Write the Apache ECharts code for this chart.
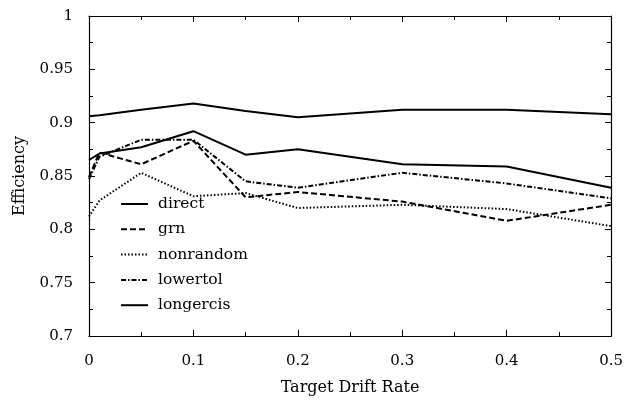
<!DOCTYPE html>
<html><head><meta charset="utf-8">
<script src="https://cdn.jsdelivr.net/npm/echarts@6/dist/echarts.min.js"></script>
<style>html,body{margin:0;padding:0;background:#fff}#c{width:626px;height:401px}</style>
</head><body><div id="c"></div>
<script>
var driftRates = [0, 0.01, 0.05, 0.1, 0.15, 0.2, 0.3, 0.4, 0.5];
var direct    = [0.865, 0.871, 0.877, 0.892, 0.870, 0.875, 0.861, 0.859, 0.839];
var grn       = [0.849, 0.872, 0.861, 0.883, 0.830, 0.835, 0.826, 0.808, 0.823];
var nonrandom = [0.812, 0.827, 0.853, 0.831, 0.834, 0.820, 0.823, 0.819, 0.803];
var lowertol  = [0.847, 0.868, 0.884, 0.884, 0.845, 0.839, 0.853, 0.843, 0.829];
var longercis = [0.906, 0.907, 0.912, 0.918, 0.911, 0.905, 0.912, 0.912, 0.908];
var seriesNames = ['direct', 'grn', 'nonrandom', 'lowertol', 'longercis'];
var xTitle = 'Target Drift Rate';
var yTitle = 'Efficiency';

var FONT = 'DejaVu Serif';
var dashes = {
  direct: 'solid',
  grn: [6, 3],
  nonrandom: [1.5, 2],
  lowertol: [5, 2, 1.5, 2],
  longercis: 'solid'
};
var values = {direct: direct, grn: grn, nonrandom: nonrandom, lowertol: lowertol, longercis: longercis};

function pairs(arr) { return driftRates.map(function (x, i) { return [x, arr[i]]; }); }

var axisLineStyle = {color: '#000', width: 1.2};
function mkX(pos, labels) {
  return {
    type: 'value', position: pos, min: 0, max: 0.5, interval: 0.1,
    axisLine: {show: true, onZero: false, lineStyle: axisLineStyle},
    axisTick: {show: true, inside: true, length: 6, lineStyle: {color: '#000'}},
    minorTick: {show: true, splitNumber: 2, length: 4, lineStyle: {color: '#000'}},
    splitLine: {show: false},
    axisLabel: {show: labels, color: '#000', fontFamily: FONT, fontSize: 15, margin: 18},
    name: labels ? xTitle : '', nameLocation: 'middle', nameGap: 44,
    nameTextStyle: {color: '#000', fontFamily: FONT, fontSize: 16}
  };
}
function mkY(pos, labels) {
  return {
    type: 'value', position: pos, min: 0.7, max: 1, interval: 0.05,
    axisLine: {show: true, onZero: false, lineStyle: axisLineStyle},
    axisTick: {show: true, inside: true, length: 6, lineStyle: {color: '#000'}},
    minorTick: {show: true, splitNumber: 2, length: 4, lineStyle: {color: '#000'}},
    splitLine: {show: false},
    axisLabel: {show: labels, color: '#000', fontFamily: FONT, fontSize: 15, margin: 16},
    name: labels ? yTitle : '', nameLocation: 'middle', nameGap: 61, nameRotate: 90,
    nameTextStyle: {color: '#000', fontFamily: FONT, fontSize: 16}
  };
}

var chart = echarts.init(document.getElementById('c'), null, {renderer: 'canvas'});
chart.setOption({
  animation: false,
  backgroundColor: '#fff',
  grid: {left: 89, right: 13, top: 16, bottom: 63, containLabel: false},
  xAxis: [mkX('bottom', true), mkX('top', false)],
  yAxis: [mkY('left', true), mkY('right', false)],
  legend: {
    orient: 'vertical', left: 115, top: 191,
    itemWidth: 27, itemHeight: 14, itemGap: 9.3,
    itemStyle: {opacity: 0},
    textStyle: {color: '#000', fontFamily: FONT, fontSize: 15.5, padding: [0, 0, 0, 5]},
    data: seriesNames
  },
  series: seriesNames.map(function (n) {
    return {
      name: n, type: 'line', xAxisIndex: 0, yAxisIndex: 0,
      data: pairs(values[n]), symbol: 'none', showSymbol: false,
      lineStyle: {color: '#000', width: 2, type: dashes[n]},
      itemStyle: {color: '#000'}
    };
  })
});
</script></body></html>
